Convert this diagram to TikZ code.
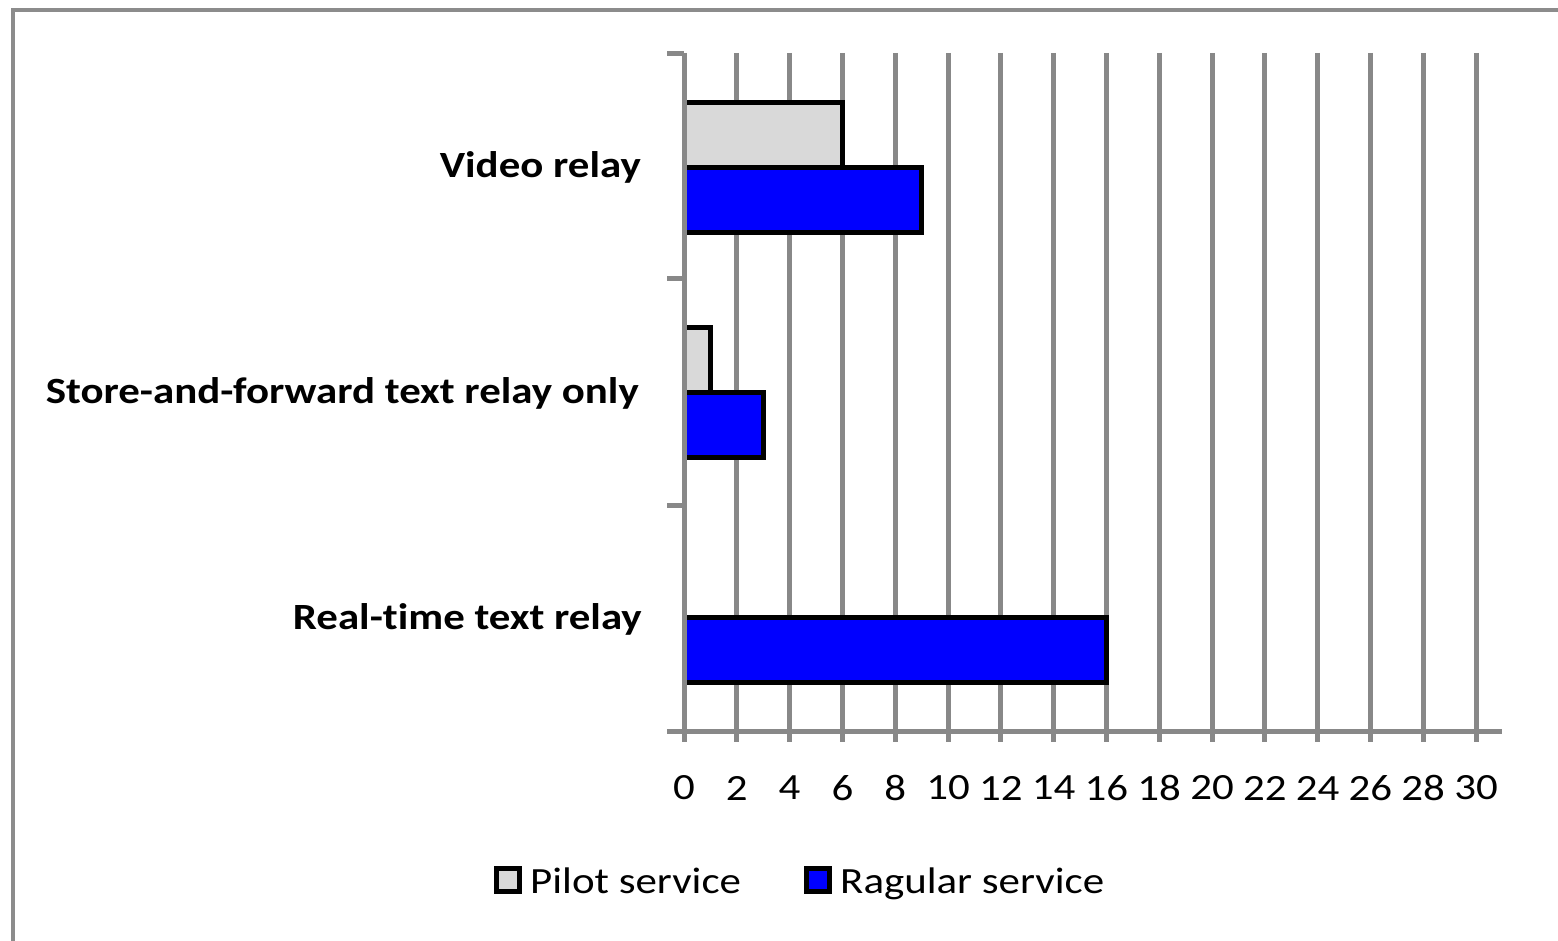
\documentclass[tikz,border=0pt]{standalone}
\usepackage{fontspec}
\setmainfont{Carlito}[FakeStretch=1.16,Ligatures=NoCommon]
\definecolor{gridgray}{RGB}{136,136,136}
\definecolor{framegray}{RGB}{140,140,140}
\definecolor{pilotgray}{RGB}{217,217,217}
\definecolor{regblue}{RGB}{0,0,255}
\begin{document}
\begin{tikzpicture}[x=1pt,y=-1pt,
  gridline/.style={draw=gridgray,line width=5pt},
  barpilot/.style={draw=black,line width=5pt,fill=pilotgray},
  barreg/.style={draw=black,line width=5pt,fill=regblue},
  catlabel/.style={anchor=east,inner sep=0pt,font=\fontsize{37}{40}\selectfont\bfseries},
  ticklabel/.style={anchor=center,inner sep=0pt,font=\fontsize{37}{40}\selectfont},
  legtext/.style={anchor=base west,inner sep=0pt,font=\fontsize{37}{40}\selectfont},
  legbox/.style={draw=black,line width=5pt,minimum width=23pt,minimum height=23pt,inner sep=0pt}]
\useasboundingbox (0,0) rectangle (1558,941);
\fill[white] (0,0) rectangle (1558,941);
% outer frame (left and top edges visible)
\draw[framegray,line width=4pt] (13,945) -- (13,10) -- (1562,10);
% gridlines
\foreach \i in {1,...,15}
  \draw[gridline] ({684+52.8*\i},53) -- ({684+52.8*\i},742);
% bars
\draw[barpilot] (684,103) rectangle ({684+6*26.4},168);
\draw[barreg]   (684,168) rectangle ({684+9*26.4},233);
\draw[barpilot] (684,327) rectangle ({684+1*26.4},392);
\draw[barreg]   (684,392) rectangle ({684+3*26.4},457);
\draw[barreg]   (684,617) rectangle ({684+16*26.4},682);
% axes
\draw[gridline] (684,53) -- (684,742);
\draw[gridline] (667,731) -- (1502,731);
\foreach \y in {54,279,505}
  \draw[gridline] (667,\y) -- (684,\y);
% category labels
\node[catlabel] (cvideo) at (641,167) {Video relay};
\node[catlabel] (cstore) at (639,393) {Store-and-forward text relay only};
\node[catlabel] (creal)  at (642,619) {Real-time text relay};
% tick labels
\foreach \i in {0,...,15}{
  \pgfmathtruncatemacro{\v}{2*\i}
  \node[ticklabel] (t\i) at ({684+52.8*\i},788) {\v};
}
% legend
\node[legbox,fill=pilotgray] (lbp) at (508,880) {};
\node[legtext] (ltp) at (530,893) {Pilot service};
\node[legbox,fill=regblue] (lbr) at (818,880) {};
\node[legtext] (ltr) at (840,893) {Ragular service};
\end{tikzpicture}
\end{document}
